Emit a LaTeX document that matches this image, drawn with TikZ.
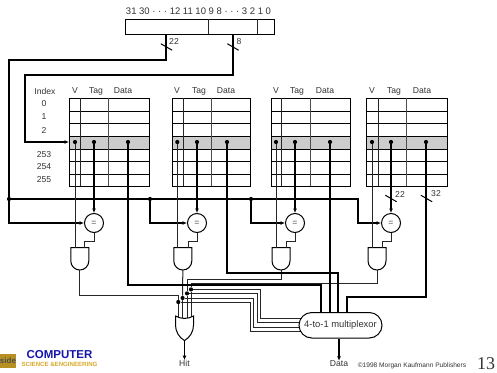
\documentclass[tikz,border=0pt]{standalone}
\usepackage{fontspec}
\setmainfont{Liberation Sans}
\newfontfamily\numfont{Liberation Serif}
\usetikzlibrary{arrows.meta,calc,shapes.gates.logic.US,shapes.misc}
\definecolor{rowgrey}{RGB}{204,204,204}
\definecolor{logogold}{RGB}{214,170,40}
\definecolor{logoblue}{RGB}{20,20,170}
\begin{document}
\begin{tikzpicture}[x=1pt,y=-1pt,font=\fontsize{8.6}{10}\selectfont,
  wire/.style={draw,line width=1pt,black!85},
  bus/.style={draw,line width=1.6pt},
  tip/.style={-{Latex[length=4.5pt,width=4pt]}},
  lab/.style={inner sep=0pt,text=black!80},
  dot/.style={circle,fill,inner sep=0pt,minimum size=4.2pt},
  tick/.style={draw,line width=1pt,rotate=-30,inner sep=0pt,outer sep=0pt,minimum width=13pt,minimum height=0pt},
  reg/.style={draw,line width=1pt,inner sep=0pt,outer sep=0pt,minimum width=149pt,minimum height=15pt},
  tbl/.style={draw,line width=1pt,anchor=north west,inner sep=0pt,outer sep=0pt,minimum height=88pt,
    path picture={
      \fill[rowgrey] (-60,-6) rectangle (60,7);
      \draw[line width=1pt] (-60,-31) -- (60,-31) (-60,-18.5) -- (60,-18.5) (-60,-6) -- (60,-6) (-60,7) -- (60,7) (-60,19) -- (60,19) (-60,32) -- (60,32);
    }},
  cmp/.style={draw,circle,line width=1pt,fill=white,inner sep=0pt,minimum size=19pt,text=black!70,font=\fontsize{8.6}{10}\selectfont},
  andg/.style={and gate US,draw,line width=1pt,rotate=-90,inner sep=0pt,outer sep=0pt,minimum height=17pt,minimum width=20pt},
  org/.style={or gate US,draw,line width=1pt,fill=white,rotate=-90,inner sep=0pt,outer sep=0pt,minimum height=17pt,minimum width=23pt},
  muxn/.style={rounded rectangle,draw,line width=1pt,fill=white,inner sep=0pt,minimum width=83pt,minimum height=25.5pt,text=black!80,font=\fontsize{9.4}{10}\selectfont}]
  \useasboundingbox (0,0) rectangle (497,372);
  % address
  \node[lab,font=\fontsize{9.5}{10}\selectfont] (bits) at (198.5,11) {31 30 · · · 12 11 10 9 8 · · · 3 2 1 0};
  \node[reg] (addr) at (200,26.5) {};
  \draw[wire] (208,19) -- (208,34) (257,19) -- (257,34);
  \coordinate (tagout) at (166,34);
  \coordinate (idxout) at (233,34);
  % cache tables
  \node[tbl,minimum width=80pt] (tab1) at (69,98) {};
  \node[tbl,minimum width=78pt] (tab2) at (172,98) {};
  \node[tbl,minimum width=79pt] (tab3) at (271,98) {};
  \node[tbl,minimum width=81pt] (tab4) at (366,98) {};
  \draw[wire] (80,98) -- (80,186) (183,98) -- (183,186) (281,98) -- (281,186) (378,98) -- (378,186);
  \draw[wire,black!70] (108,98) -- (108,186) (211,98) -- (211,186) (310,98) -- (310,186) (406,98) -- (406,186);
  \node[lab] (idxh) at (45,91) {Index};
  \node[lab] (i0) at (44,104) {0};
  \node[lab] (i1) at (44,117) {1};
  \node[lab] (i2) at (44,130) {2};
  \node[lab] (i253) at (44,155) {253};
  \node[lab] (i254) at (44,167) {254};
  \node[lab] (i255) at (44,180) {255};
  \node[lab] (vh1) at (75,91) {V};
  \node[lab] (th1) at (96,91) {Tag};
  \node[lab] (dh1) at (123,91) {Data};
  \node[lab] (vh2) at (177,91) {V};
  \node[lab] (th2) at (199,91) {Tag};
  \node[lab] (dh2) at (226,91) {Data};
  \node[lab] (vh3) at (276,91) {V};
  \node[lab] (th3) at (297,91) {Tag};
  \node[lab] (dh3) at (325,91) {Data};
  \node[lab] (vh4) at (372,91) {V};
  \node[lab] (th4) at (394,91) {Tag};
  \node[lab] (dh4) at (422,91) {Data};
  % row taps
  \node[dot] (v1) at (75,142) {};
  \node[dot] (t1) at (94,142) {};
  \node[dot] (d1) at (128,142) {};
  \node[dot] (v2) at (177.3,142) {};
  \node[dot] (t2) at (197,142) {};
  \node[dot] (d2) at (227,142) {};
  \node[dot] (v3) at (276,142) {};
  \node[dot] (t3) at (295,142) {};
  \node[dot] (d3) at (330,142) {};
  \node[dot] (v4) at (372,142) {};
  \node[dot] (t4) at (391,142) {};
  \node[dot] (d4) at (426,142) {};
  % comparators and gates
  \node[cmp] (c1) at (94,223) {=};
  \node[cmp] (c2) at (197,223) {=};
  \node[cmp] (c3) at (295,223) {=};
  \node[cmp] (c4) at (391,223) {=};
  \node[andg] (g1) at (79.8,258) {};
  \node[andg] (g2) at (182.8,258) {};
  \node[andg] (g3) at (281,258) {};
  \node[andg] (g4) at (377,258) {};
  \node[dot] (j1) at (9,199) {};
  \node[dot] (j2) at (150,199) {};
  \node[dot] (j3) at (251,199) {};
  \node[dot] (o1) at (178.3,302) {};
  \node[dot] (o2) at (182.6,298) {};
  \node[dot] (o3) at (187,293.4) {};
  \node[dot] (o4) at (191,289.4) {};
  \coordinate (m1) at (305,331);
  \coordinate (m2) at (305,327);
  \coordinate (m3) at (305,322.7);
  \coordinate (m4) at (305,318.5);
  \coordinate (ma) at (321,316);
  \coordinate (mb) at (338,316);
  \coordinate (mc) at (330,316);
  \coordinate (md) at (347,316);
  % tag and index busses
  \draw[bus] (tagout) -- ++(0,26) -| (j1);
  \draw[bus,tip] (idxout) -- ++(0,41) -| (25,142) -- (tab1.west);
  \draw[bus,tip] (j1) |- (c1);
  \draw[bus,tip] (j2) |- (c2);
  \draw[bus,tip] (j3) |- (c3);
  \draw[bus,tip] (j3) -- ++(107,0) |- (c4);
  \draw[bus] (j1) -- (j2);
  \draw[bus] (j2) -- (j3);
  \draw[bus,tip] (t1) -- (c1);
  \draw[bus,tip] (t2) -- (c2);
  \draw[bus,tip] (t3) -- (c3);
  \draw[bus,tip] (t4) -- (c4);
  % valid and hit lines
  \draw[wire] (v1) -- (v1 |- g1.west);
  \draw[wire] (v2) -- (v2 |- g2.west);
  \draw[wire] (v3) -- (v3 |- g3.west);
  \draw[wire] (v4) -- (v4 |- g4.west);
  \draw[wire] (c1.south) -- ++(0,8) -| ($(g1.west)+(5,0)$);
  \draw[wire] (c2.south) -- ++(0,8) -| ($(g2.west)+(5.5,0)$);
  \draw[wire] (c3.south) -- ++(0,8) -| ($(g3.west)+(5,0)$);
  \draw[wire] (c4.south) -- ++(0,8) -| ($(g4.west)+(5.7,0)$);
  \draw[wire] (g1.east) -- ++(0,25) -| (o1);
  \draw[wire] (g2.east) -- (o2);
  \draw[wire] (g3.east) -- ++(0,9) -| (o3);
  \draw[wire] (g4.east) -- ++(0,13) -| (o4);
  \draw[wire] (o1) -- (o1 |- 0,325);
  \draw[wire] (o2) -- (o2 |- 0,325);
  \draw[wire] (o3) -- (o3 |- 0,325);
  \draw[wire] (o4) -- (o4 |- 0,325);
  \draw[wire] (o1) -- ++(71.7,0) |- (m1);
  \draw[wire] (o2) -- ++(70.9,0) |- (m2);
  \draw[wire] (o3) -- ++(70,0) |- (m3);
  \draw[wire] (o4) -- ++(69,0) |- (m4);
  % data lines
  \draw[bus] (d1) -- ++(0,143) -| (ma);
  \draw[bus] (d2) -- ++(0,131) -| (mb);
  \draw[bus] (d3) -- (mc);
  \draw[bus] (d4) -- ++(0,155) -| (md);
  % bus widths
  \node[tick] (s1) at (166.5,47) {};
  \node[tick] (s2) at (233,47) {};
  \node[tick] (s3) at (391,198.5) {};
  \node[tick] (s4) at (426.5,198.5) {};
  \node[lab] (w1) at (174,41.5) {22};
  \node[lab] (w2) at (239,41.5) {8};
  \node[lab] (w3) at (400,194) {22};
  \node[lab] (w4) at (436,194) {32};
  % outputs
  \node[org] (orh) at (184.5,326.5) {};
  \node[muxn] (mux) at (340.5,325.25) {4-to-1 multiplexor};
  \node[lab] (hit) at (184.5,363.5) {Hit};
  \node[lab] (data) at (339,364) {Data};
  \draw[draw,line width=1pt,tip] (orh.east) -- (hit.north);
  \draw[bus,tip] (mux.south -| data) -- (data.north);
  % footer
  \node[lab,font=\fontsize{6.6}{8}\selectfont] (copy) at (412,366) {©1998 Morgan Kaufmann Publishers};
  \node[lab,font=\numfont\fontsize{18}{20}\selectfont] (page) at (486,363.5) {13};
  \node[fill=logogold!85!black,inner sep=0pt,minimum width=16pt,minimum height=14pt,font=\bfseries\fontsize{8}{9}\selectfont,text=black!70] (logo) at (8,361) {side};
  \node[lab,text=logoblue,font=\bfseries\fontsize{11.5}{12}\selectfont] (cs) at (59.5,355) {COMPUTER};
  \node[lab,text=logogold,font=\bfseries\fontsize{6.1}{7}\selectfont] (eng) at (59.5,364.5) {SCIENCE \&ENGINEERING};
\end{tikzpicture}
\end{document}
